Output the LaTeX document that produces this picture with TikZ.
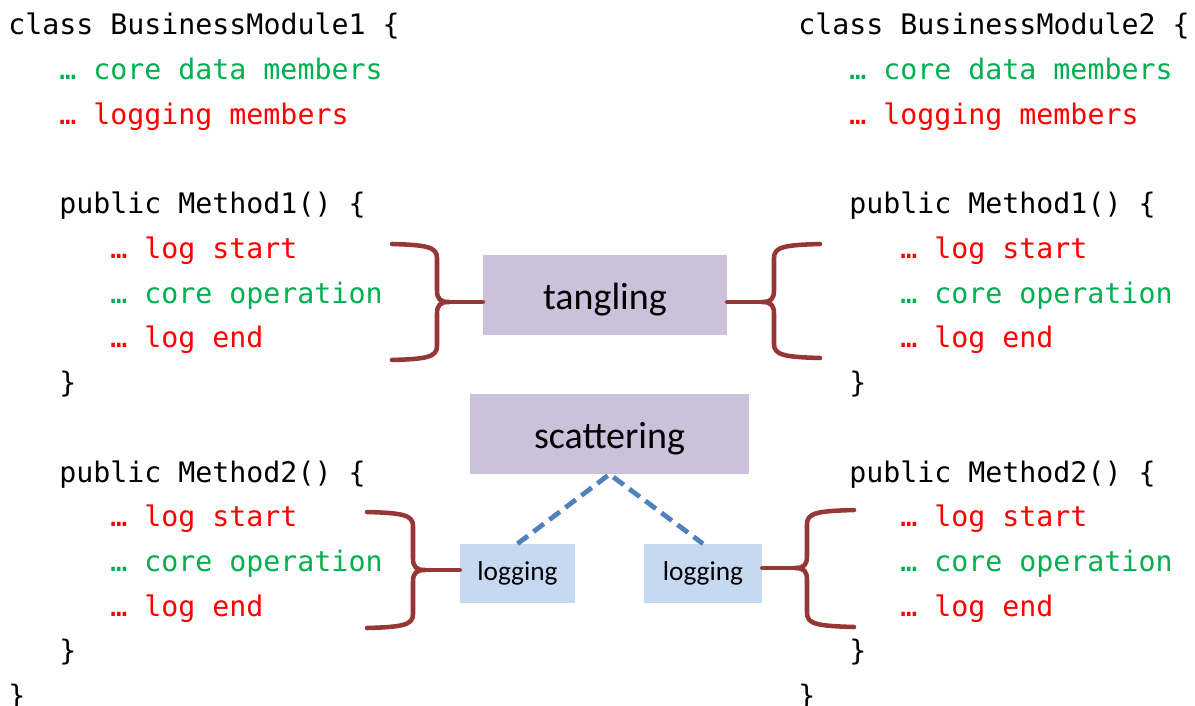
\documentclass[tikz,border=0pt]{standalone}
\usepackage{fontspec}
\newfontfamily\codefont{DejaVu Sans Mono}
\newfontfamily\labelfont{Carlito}
\definecolor{codegreen}{HTML}{00B050}
\definecolor{codered}{HTML}{FF0000}
\definecolor{bracered}{HTML}{953735}
\definecolor{lavender}{HTML}{CCC1DA}
\definecolor{paleblue}{HTML}{C6D9F1}
\definecolor{dashblue}{HTML}{4F81BD}

% curly brace: #1 open end x, #2 spine x, #3 top y, #4 tip y, #5 bottom y,
% #6 direction of the tip (+1 right, -1 left), #7 name of the tip coordinate
\newcommand\curlybrace[7]{%
  \draw[bracestroke] (#1,#3)
    .. controls ({#2-10*(#6)},#3+1) and (#2,#3+3) .. (#2,#3+14)
    -- (#2,#4-12)
    .. controls (#2,#4-3) and ({#2+3*(#6)},#4) .. ({#2+12*(#6)},#4)
    .. controls ({#2+3*(#6)},#4) and (#2,#4+3) .. (#2,#4+12)
    -- (#2,#5-14)
    .. controls (#2,#5-3) and ({#2-10*(#6)},#5-1) .. (#1,#5);
  \coordinate (#7) at ({#2+12*(#6)},#4);%
}
% label text set a little below the centre of its box
\newcommand\lowered[1]{\raisebox{-3.5pt}[\height][\depth]{#1}}

\begin{document}
\begin{tikzpicture}[x=0.75pt,y=-0.75pt,
  code/.style={anchor=base west, inner sep=0pt,
    font=\codefont\fontsize{21.2pt}{25pt}\selectfont},
  box/.style={inner sep=0pt, draw=none},
  bigbox/.style={box, fill=lavender, minimum height=60pt,
    font=\labelfont\fontsize{28.5pt}{32pt}\selectfont},
  logbox/.style={box, fill=paleblue, minimum height=44.25pt,
    font=\labelfont\fontsize{20.5pt}{24pt}\selectfont},
  bracestroke/.style={draw=bracered, line width=3.4pt,
    line cap=round, line join=round},
  dashline/.style={draw=dashblue, line width=3.6pt,
    dash pattern=on 9.75pt off 5.25pt}]

\useasboundingbox (0,0) rectangle (1195,706);

% the two classes, one line of code per node
\foreach \col/\n/\x in {L/1/8, R/2/798}{
  \foreach \i/\k/\c/\t in {
      0/0/black/{class BusinessModule\n{} \{},
      1/3/codegreen/{… core data members},
      2/3/codered/{… logging members},
      4/3/black/{public Method1() \{},
      5/6/codered/{… log start},
      6/6/codegreen/{… core operation},
      7/6/codered/{… log end},
      8/3/black/{\}},
      10/3/black/{public Method2() \{},
      11/6/codered/{… log start},
      12/6/codegreen/{… core operation},
      13/6/codered/{… log end},
      14/3/black/{\}},
      15/0/black/{\}}}{
    \node[code, text=\c] (\col\i) at ({\x+17*\k},{35+44.7*\i}) {\t};
  }
}

% concern boxes
\node[bigbox, minimum width=183pt] (tang) at (605,295) {\lowered{tangling}};
\node[bigbox, minimum width=209.25pt] (scat) at (609.5,434) {\lowered{scattering}};
\node[logbox, minimum width=86.25pt] (logL) at (517.5,573.5) {logging};
\node[logbox, minimum width=88.5pt] (logR) at (703,573.5) {logging};

% braces around the Method1 bodies
\curlybrace{392}{437}{244}{302}{360}{1}{tipA}
\curlybrace{820}{774}{244}{302}{358}{-1}{tipB}
\draw[bracestroke] (tipA) -- (tipA -| tang.west);
\draw[bracestroke] (tipB) -- (tipB -| tang.east);

% braces around the Method2 bodies
\curlybrace{367}{413}{512}{570}{628}{1}{tipC}
\curlybrace{854}{807}{510}{568}{627}{-1}{tipD}
\draw[bracestroke] (tipC) -- (tipC -| logL.west);
\draw[bracestroke] (tipD) -- (tipD -| logR.east);

% scattering links
\draw[dashline] (logL.north) -- (scat.south) -- (logR.north);

\end{tikzpicture}
\end{document}
